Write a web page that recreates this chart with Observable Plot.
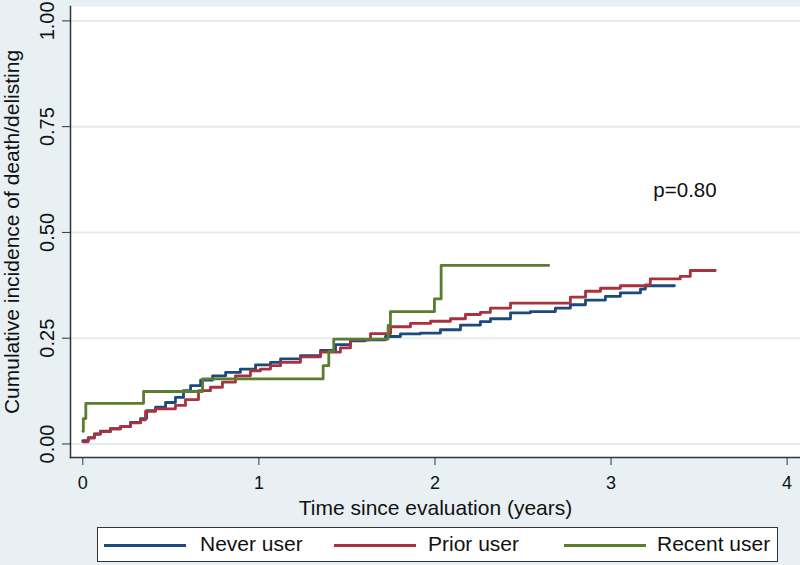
<!DOCTYPE html>
<html>
<head>
<meta charset="utf-8">
<script src="https://cdn.jsdelivr.net/npm/d3@7"></script>
<script src="https://cdn.jsdelivr.net/npm/@observablehq/plot@0.6"></script>
<style>
  html, body { margin: 0; padding: 0; background: #e9f0f3; }
  body { width: 800px; height: 565px; position: relative; overflow: hidden; font-family: "Liberation Sans", Arial, sans-serif; }
  #chart { position: absolute; left: 0; top: 0; }
  #legend { position: absolute; left: 97px; top: 527px; width: 681px; height: 35px; background: #fff; border: 1px solid #333; box-sizing: border-box; }
  .sw { position: absolute; top: 16px; height: 3px; width: 82px; }
  .lt { position: absolute; top: 4px; font-size: 21px; color: #111; white-space: nowrap; }
</style>
</head>
<body>
<div id="chart"></div>
<div id="legend"></div>
<script>
// ---- data ----
const seriesNames = ["Never user", "Prior user", "Recent user"];
const seriesColors = ["#1c4a7c", "#a8323e", "#5a7d2e"];

const neverT = [0, 0.032, 0.066, 0.10, 0.157, 0.214, 0.271, 0.328, 0.362, 0.413, 0.470, 0.526, 0.572, 0.612, 0.669, 0.737, 0.811, 0.895, 0.981, 1.066, 1.123, 1.236, 1.350, 1.435, 1.520, 1.605, 1.719, 1.804, 1.917, 2.031, 2.145, 2.258, 2.315, 2.429, 2.542, 2.684, 2.769, 2.855, 2.968, 3.053, 3.167, 3.195, 3.360];
const neverV = [0.008, 0.015, 0.024, 0.030, 0.036, 0.041, 0.051, 0.060, 0.079, 0.087, 0.098, 0.110, 0.126, 0.138, 0.151, 0.161, 0.169, 0.177, 0.187, 0.193, 0.201, 0.209, 0.221, 0.235, 0.244, 0.246, 0.254, 0.260, 0.262, 0.270, 0.281, 0.289, 0.296, 0.310, 0.313, 0.321, 0.329, 0.340, 0.349, 0.357, 0.366, 0.374, 0.374];

const priorT = [0, 0.03, 0.066, 0.10, 0.157, 0.214, 0.271, 0.328, 0.356, 0.413, 0.526, 0.583, 0.657, 0.725, 0.793, 0.867, 0.952, 1.009, 1.066, 1.123, 1.236, 1.350, 1.463, 1.520, 1.634, 1.748, 1.861, 1.975, 2.088, 2.173, 2.258, 2.315, 2.429, 2.769, 2.855, 2.940, 3.053, 3.195, 3.223, 3.393, 3.450, 3.592];
const priorV = [0.005, 0.014, 0.023, 0.029, 0.036, 0.041, 0.050, 0.057, 0.077, 0.083, 0.091, 0.105, 0.126, 0.134, 0.146, 0.161, 0.173, 0.177, 0.185, 0.193, 0.206, 0.217, 0.227, 0.246, 0.261, 0.277, 0.285, 0.290, 0.296, 0.306, 0.311, 0.321, 0.333, 0.347, 0.361, 0.368, 0.374, 0.376, 0.390, 0.396, 0.410, 0.410];

const recentT = [0, 0.003, 0.017, 0.345, 0.680, 1.365, 1.397, 1.425, 1.734, 1.747, 1.997, 2.035, 2.646];
const recentV = [0.030, 0.060, 0.096, 0.124, 0.154, 0.185, 0.219, 0.248, 0.280, 0.313, 0.343, 0.422, 0.422];

const xTicks = [0, 1, 2, 3, 4];
const yTicks = [0, 0.25, 0.5, 0.75, 1];
const xLabel = "Time since evaluation (years)";
const yLabel = "Cumulative incidence of death/delisting";
const annotation = {text: "p=0.80", t: 3.42, v: 0.60};

// ---- build tables ----
const toRows = (T, V, name) => T.map((t, i) => ({t, v: V[i], series: name}));
const rows = [
  ...toRows(neverT, neverV, seriesNames[0]),
  ...toRows(priorT, priorV, seriesNames[1]),
  ...toRows(recentT, recentV, seriesNames[2])
];

const font = "'Liberation Sans', Arial, sans-serif";
const chart = Plot.plot({
  width: 800,
  height: 520,
  marginLeft: 70,
  marginRight: 0,
  marginTop: 6,
  marginBottom: 63,
  style: {background: "transparent", fontFamily: font, color: "#111"},
  x: {domain: [-0.07, 4.076]},
  y: {domain: [-0.032, 1.034]},
  color: {domain: seriesNames, range: seriesColors},
  marks: [
    Plot.frame({fill: "white", stroke: null}),
    Plot.ruleY(yTicks, {stroke: "#e3ecef", strokeWidth: 2}),
    Plot.line(rows, {x: "t", y: "v", z: "series", stroke: "series", curve: "step-after", strokeWidth: 2.8}),
    Plot.axisX({ticks: xTicks, tickSize: 8, tickPadding: 11, fontSize: 18, tickFormat: d => String(d), label: null, stroke: "#333"}),
    Plot.axisY({ticks: yTicks, tickSize: 8, tickFormat: () => "", label: null, stroke: "#333"}),
    Plot.text(yTicks, {y: d => d, text: d => d3.format(".2f")(d), frameAnchor: "left", dx: -17, rotate: -90, lineAnchor: "bottom", textAnchor: "middle", fontSize: 20, fill: "#111"}),
    Plot.frame({anchor: "left", stroke: "#333", strokeWidth: 1.5}),
    Plot.frame({anchor: "bottom", stroke: "#333", strokeWidth: 1.5}),
    Plot.text([xLabel], {frameAnchor: "bottom", text: d => d, dy: 57, lineAnchor: "bottom", textAnchor: "middle", fontSize: 21, fill: "#111"}),
    Plot.text([yLabel], {frameAnchor: "left", text: d => d, dx: -52, rotate: -90, lineAnchor: "bottom", textAnchor: "middle", fontSize: 21, fill: "#111"}),
    Plot.text([annotation], {x: "t", y: "v", text: "text", fontSize: 20.5, fill: "#111"})
  ]
});
document.getElementById("chart").appendChild(chart);

// ---- legend ----
const legend = document.getElementById("legend");
const swX = [6, 236, 466];
const txX = [102, 330, 559];
seriesNames.forEach((name, i) => {
  const sw = document.createElement("div");
  sw.className = "sw";
  sw.style.left = swX[i] + "px";
  sw.style.background = seriesColors[i];
  legend.appendChild(sw);
  const tx = document.createElement("div");
  tx.className = "lt";
  tx.style.left = txX[i] + "px";
  tx.textContent = name;
  legend.appendChild(tx);
});
</script>
</body>
</html>
